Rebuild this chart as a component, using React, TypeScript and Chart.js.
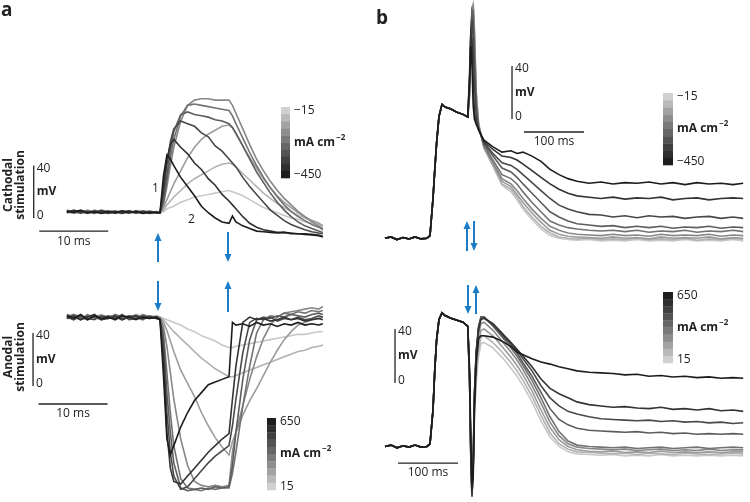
import React, { useEffect, useRef } from "react";
import { Chart, registerables } from "chart.js";
Chart.register(...registerables);

// ---------- Panel a : time (ms, stimulus onset = 0) ----------
const timeA = [-13.5, -12.5, -11.5, -10.5, -9.5, -8.5, -7.5, -6.5, -5.5, -4.5, -3.5, -2.5, -1.5, -0.5,
  0, 0.5, 1, 1.5, 2, 3, 4, 5, 6, 7, 8, 9, 10, 10.5, 11, 12, 13, 14, 15, 16, 17, 18, 19, 20, 21, 22, 23, 23.6];

// Cathodal stimulation (mV), strongest (-450) first
const cathodal1 = [5, 4.5, 6, 4, 5, 3.5, 5, 4, 5.5, 4, 5, 3.5, 4.5, 4, 4, 32, 48, 45, 40, 31, 24, 17, 9, 4, 0, -3, -4, 1.5, -3, -6, -8, -10, -10.5, -11, -11.5, -11, -12, -12, -12.5, -13, -13.5, -14.5];
const cathodal2 = [4, 6, 4.5, 5, 4, 5.5, 4, 5, 3.5, 5.5, 4, 5, 4, 4.5, 4, 25, 45, 56, 60, 54, 49, 42, 37, 30, 25, 18, 13, 10, 7, 1, -4, -7, -9, -10, -11, -11, -11.5, -12, -12, -12.5, -13, -14];
const cathodal3 = [6, 4, 5, 3.5, 5.5, 4.5, 3.5, 5, 4.5, 4, 5.5, 4.5, 3.5, 4.5, 4, 18, 40, 58, 68, 74, 72, 70, 65, 62, 55, 51, 45, 42, 39, 31, 24, 18, 12, 6, 2, -2, -5, -7, -9, -10.5, -11.5, -12];
const cathodal4 = [5, 5.5, 3.5, 5, 4, 6, 4.5, 3.5, 5, 5.5, 4, 4, 5, 4, 4, 14, 32, 52, 66, 79, 81, 79, 78, 77, 75, 74, 72, 69, 65, 55, 45, 35, 27, 19, 12, 6, 1, -3, -6, -8, -10, -11];
const cathodal5 = [4.5, 4, 5.5, 4.5, 3.5, 5, 5.5, 4, 4, 5, 3.5, 5.5, 4.5, 4.5, 4, 12, 28, 46, 60, 78, 86, 87, 86, 85, 84, 83, 82, 78, 72, 61, 50, 40, 31, 23, 16, 10, 5, 1, -2, -5, -7, -9];
const cathodal6 = [5.5, 4.5, 4, 6, 4.5, 4, 5, 5.5, 3.5, 4.5, 5, 4, 5.5, 4, 4, 10, 24, 40, 54, 74, 86, 90, 91, 91, 90, 90, 90, 86, 80, 68, 56, 45, 36, 28, 21, 15, 10, 5, 1, -3, -6, -8];
const cathodal7 = [4, 5, 5, 4, 6, 4.5, 4, 4.5, 5.5, 3.5, 5, 4.5, 4, 5, 4, 8, 14, 20, 26, 36, 46, 54, 60, 64, 67, 70, 71, 69, 64, 55, 46, 38, 30, 23, 17, 12, 8, 4, 1, -2, -4, -6];
const cathodal8 = [5, 3.5, 4.5, 5.5, 4, 5, 4.5, 5.5, 4, 5, 4.5, 5.5, 4, 4.5, 4, 6, 10, 13, 16, 21, 26, 30, 33, 36, 39, 41, 42, 41, 39, 34, 29, 24, 19, 15, 11, 8, 5, 2, 0, -2, -4, -6];
const cathodal9 = [6, 4.5, 5, 4, 5, 4, 5.5, 4.5, 5, 4, 4.5, 5, 5, 4.5, 4, 5, 7, 8, 9, 12, 14, 16, 17, 18, 19, 20, 21, 20, 19, 17, 14, 11, 8, 6, 4, 2, 0, -1, -3, -4, -5, -6];

// Anodal stimulation (mV), strongest (650) first
const anodal1 = [53, 51, 54, 50, 53, 51, 52, 50, 53, 52, 50, 52, 51, 52, 50, 8, -40, -52, -45, -31, -20, -11, -5, 1, 3, 5, 7, 48, 46, 47, 45, 48, 46, 47, 45, 47, 46, 48, 46, 47, 46, 47];
const anodal2 = [51, 53, 50, 52, 54, 50, 51, 53, 50, 52, 53, 51, 52, 51, 50, 20, -35, -62, -72, -74, -68, -62, -56, -50, -45, -40, -36, -10, 15, 48, 52, 50, 51, 49, 50, 52, 50, 51, 49, 50, 51, 50];
const anodal3 = [52, 50, 53, 51, 50, 53, 52, 51, 54, 50, 51, 53, 52, 52, 50, 28, -20, -50, -68, -78, -76, -70, -64, -58, -53, -49, -45, -30, -10, 25, 48, 51, 50, 52, 49, 51, 50, 52, 50, 51, 53, 52];
const anodal4 = [54, 52, 51, 53, 52, 50, 53, 52, 51, 53, 52, 50, 53, 51, 51, 35, -5, -35, -58, -77, -79, -78, -77, -78, -76, -77, -76, -60, -35, 5, 35, 50, 52, 51, 53, 52, 54, 53, 52, 54, 55, 54];
const anodal5 = [52, 54, 52, 50, 53, 52, 51, 54, 52, 51, 53, 52, 51, 52, 51, 40, 10, -20, -45, -70, -77, -78, -79, -77, -78, -77, -77, -66, -50, -15, 15, 40, 50, 53, 52, 55, 54, 56, 55, 57, 56, 57];
const anodal6 = [53, 52, 50, 54, 51, 53, 52, 52, 50, 53, 51, 54, 52, 51, 51, 45, 30, 10, -10, -40, -60, -72, -75, -76, -75, -76, -75, -50, -35, -15, 5, 22, 36, 46, 52, 55, 56, 57, 58, 59, 58, 60];
const anodal7 = [52, 53, 51, 52, 53, 51, 53, 51, 52, 51, 54, 52, 51, 53, 52, 48, 42, 34, 26, 12, 2, -8, -20, -30, -39, -46, -52, -42, -35, -22, -11, -2, 8, 18, 27, 35, 41, 46, 48, 50, 51, 52];
const anodal8 = [51, 52, 53, 51, 52, 54, 51, 52, 53, 52, 51, 52, 53, 52, 52, 50, 47, 44, 41, 36, 31, 26, 21, 17, 13, 10, 7, 7, 8, 10, 12, 14, 16, 18, 20, 22, 24, 26, 27, 29, 30, 31];
const anodal9 = [53, 51, 52, 53, 51, 52, 53, 52, 51, 53, 52, 51, 52, 53, 52, 51, 50, 49, 48, 46, 43, 41, 38, 36, 34, 31, 29, 29, 30, 31, 32, 33, 34, 35, 36, 37, 38, 39, 39, 40, 41, 41];

// ---------- Panel b : time (ms, upstroke = 0) ----------
const timeB = [-80, -70, -60, -50, -40, -30, -20, -10, -5, 0, 3, 6, 10, 15, 20, 30, 40, 50, 58,
  61, 63, 65, 67, 69, 72, 76, 80,
  85, 100, 115, 130, 140, 150, 165, 180, 195, 210, 225, 240, 260, 280, 300, 320, 340, 360, 380, 400, 420, 440, 460, 480, 500, 517];

const bTopUpstroke = [-90, -89, -91, -89.5, -90.5, -89, -90.5, -90, -88, -60, -38, -18, 2, 11, 9, 7.5, 5, 3.5, 1.5];
const bTop1 = [...bTopUpstroke, 30, 55, 40, 10, 0, -4, -8, -12, -16, -21, -25, -24, -26, -25, -28, -32, -38, -42, -45, -47, -48.5, -47.5, -49, -48, -48.5, -47.5, -49, -48, -49.5, -48, -49, -48.5, -49.5, -48.5];
const bTop2 = [...bTopUpstroke, 35, 65, 60, 30, 5, -3, -8, -12, -17, -23, -28, -29, -31, -34, -39, -44, -49, -53, -56, -58, -59, -60, -59, -60.5, -59.5, -60, -59, -61, -60, -59.5, -61, -60, -59.5, -60];
const bTop3 = [...bTopUpstroke, 30, 65, 75, 60, 30, 2, -8, -12, -18, -26, -33, -35, -38, -42, -48, -54, -60, -65, -68, -70, -72, -72.5, -74, -73, -74.5, -73, -74, -73.5, -75, -74, -73.5, -75, -74, -75];
const bTop4 = [...bTopUpstroke, 25, 62, 80, 75, 45, 8, -7, -12, -19, -28, -37, -40, -44, -49, -56, -63, -70, -74, -77, -79, -80, -81, -80.5, -82, -81, -82, -81, -82.5, -81.5, -82, -81, -82.5, -81.5, -82];
const bTop5 = [...bTopUpstroke, 22, 60, 82, 82, 55, 12, -6, -12, -20, -31, -42, -45, -49, -55, -63, -70, -77, -80, -82, -83, -84, -84.5, -84, -85, -84, -85.5, -84.5, -85, -84, -85.5, -84.5, -85, -84, -85];
const bTop6 = [...bTopUpstroke, 20, 58, 83, 85, 62, 16, -5, -12, -21, -33, -45, -49, -54, -60, -68, -75, -81, -84, -86, -87, -87.5, -88, -87, -88, -87.5, -88.5, -87, -88, -87.5, -88, -87, -88.5, -87.5, -88];
const bTop7 = [...bTopUpstroke, 18, 56, 84, 86, 66, 20, -4, -12, -21, -34, -47, -51, -57, -63, -71, -78, -84, -87, -88.5, -89, -89.5, -90, -89, -90, -89.5, -90.5, -89, -90, -89.5, -90, -89, -90.5, -89.5, -90];
const bTop8 = [...bTopUpstroke, 18, 55, 84, 87, 66, 20, -4, -12, -22, -35, -49, -53, -59, -66, -74, -81, -86, -89, -90, -90.5, -90, -91, -90.5, -91, -90, -91, -90.5, -91, -90, -91.5, -90.5, -91, -90, -91];
const bTop9 = [...bTopUpstroke, 17, 54, 83, 86, 68, 22, -3, -12, -22, -36, -50, -55, -61, -68, -76, -83, -88, -90, -91, -91.5, -91, -92, -91.5, -92, -91, -92, -91.5, -92, -91, -92, -91.5, -92, -91, -92];

const bBotUpstroke = [-47, -46, -48, -46.5, -47.5, -46, -47.5, -47, -45, -20, 10, 32, 47, 52, 50, 48, 46.5, 45, 42];
const bBot1 = [...bBotUpstroke, 10, -40, -75, -70, -20, 15, 33, 35, 35, 34, 31, 27, 23, 21, 18, 15.5, 14, 12, 10.5, 9, 8, 7.5, 7, 6, 6.5, 5, 5.5, 4.5, 5, 4, 4.5, 3.5, 4, 3.5];
const bBot2 = [...bBotUpstroke, 5, -50, -82, -62, -12, 22, 40, 47, 48, 44, 37, 30, 25, 20, 12, 3, -4, -8, -11, -14, -16, -17, -18, -17.5, -18.5, -19, -18, -19.5, -19, -20, -19, -20.5, -20, -21];
const bBot3 = [...bBotUpstroke, 3, -52, -84, -60, -10, 22, 41, 48, 48, 43, 36, 29, 24, 18, 9, -2, -11, -17, -21, -23, -25, -26.5, -27, -27.5, -28, -27.5, -28.5, -28, -29, -28.5, -29.5, -29, -30, -29.5];
const bBot4 = [...bBotUpstroke, 2, -55, -84, -58, -8, 24, 42, 49, 49, 43, 35, 28, 22, 15, 5, -7, -19, -27, -31, -33.5, -35, -35.5, -36, -36.5, -36, -37, -36.5, -37.5, -37, -38, -37.5, -38, -37.5, -38];
const bBot5 = [...bBotUpstroke, 0, -55, -84, -60, -10, 22, 41, 49, 49, 42, 34, 26, 20, 13, 2, -11, -25, -36, -43, -46, -47, -47.5, -48, -47.5, -48.5, -48, -47.5, -48.5, -48, -47.5, -48.5, -48, -47.5, -48];
const bBot6 = [...bBotUpstroke, 0, -54, -83, -62, -15, 15, 36, 44, 45, 39, 31, 23, 17, 10, -2, -15, -29, -39, -45, -47.5, -48.5, -49, -49.5, -49, -50, -49.5, -49, -50, -49.5, -50, -49, -50, -49.5, -49.5];
const bBot7 = [...bBotUpstroke, 0, -52, -82, -64, -20, 10, 30, 39, 40, 35, 27, 19, 13, 6, -6, -20, -33, -42, -47, -49.5, -50.5, -51, -50.5, -51.5, -51, -51.5, -50.5, -51.5, -51, -51.5, -51, -51.5, -51, -51];
const bBot8 = [...bBotUpstroke, 0, -50, -80, -65, -24, 5, 25, 34, 35, 30, 23, 15, 9, 2, -10, -24, -37, -45, -49, -51, -51.5, -52, -52.5, -52, -53, -52, -52.5, -53, -52, -52.5, -53, -52.5, -52, -52.5];
const bBot9 = [...bBotUpstroke, 0, -48, -78, -66, -28, 0, 20, 29, 30, 26, 19, 11, 5, -2, -14, -28, -40, -47, -51, -52.5, -53, -53.5, -53, -54, -53.5, -54, -53, -54, -53.5, -54, -53.5, -54, -53.5, -54];

// legend labels
const cathodalRange = ["\u221215", "\u2212450"];
const anodalRange = ["650", "15"];

const traceShades = ["#1c1c1c", "#333333", "#484848", "#5d5d5d", "#727272", "#878787", "#9c9c9c", "#b2b2b2", "#c8c8c8"];
const barShades = ["#1e1e1e", "#2f2f2f", "#404040", "#535353", "#666666", "#7a7a7a", "#8e8e8e", "#a3a3a3", "#b9b9b9", "#d0d0d0"];

const W = 750, H = 502;
const FONT = '"Open Sans", "Noto Sans", sans-serif';
const BLUE = "#1c7cc6";

function xRange(px0: number, v0: number, k: number) {
  return { min: v0 - px0 / k, max: v0 + (W - px0) / k };
}
function yRange(px0: number, v0: number, k: number) {
  return { min: v0 - (H - px0) / k, max: v0 + px0 / k };
}

function series(times: number[], vals: number[], xID: string, yID: string, color: string) {
  return {
    data: times.map((t, i) => ({ x: t, y: vals[i] })),
    xAxisID: xID,
    yAxisID: yID,
    borderColor: color,
    borderWidth: 1.6,
    pointRadius: 0,
    tension: 0,
    fill: false,
  };
}

const annotations = {
  id: "annotations",
  afterDatasetsDraw(chart: any) {
    const ctx = chart.ctx as CanvasRenderingContext2D;
    const s = chart.scales;
    ctx.save();
    ctx.fillStyle = "#222";
    ctx.strokeStyle = "#222";

    const text = (t: string, x: number, y: number, size: number, bold = false, align: CanvasTextAlign = "left") => {
      ctx.font = `${bold ? "bold " : ""}${size}px ${FONT}`;
      ctx.textAlign = align;
      ctx.textBaseline = "middle";
      ctx.fillText(t, x, y);
    };
    const units = (x: number, y: number) => {
      ctx.font = `bold 12px ${FONT}`;
      ctx.textAlign = "left";
      ctx.textBaseline = "middle";
      ctx.fillText("mA cm", x, y);
      const w = ctx.measureText("mA cm").width;
      ctx.font = `bold 8px ${FONT}`;
      ctx.fillText("\u22122", x + w + 1, y - 5);
    };
    const scaleBar = (xs: any, ys: any, tV: number, tA: number, tB: number, vT: number, msLabel: string) => {
      const x = xs.getPixelForValue(tV);
      const y0 = ys.getPixelForValue(0);
      const y40 = ys.getPixelForValue(40);
      ctx.lineWidth = 1.3;
      ctx.beginPath();
      ctx.moveTo(x, y0);
      ctx.lineTo(x, y40);
      ctx.stroke();
      text("40", x + 3, y40 + 3, 12);
      text("mV", x + 3, (y0 + y40) / 2, 12, true);
      text("0", x + 3, y0 - 2, 12);
      const xa = xs.getPixelForValue(tA);
      const xb = xs.getPixelForValue(tB);
      const yt = ys.getPixelForValue(vT);
      ctx.beginPath();
      ctx.moveTo(xa, yt);
      ctx.lineTo(xb, yt);
      ctx.stroke();
      text(msLabel, (xa + xb) / 2, yt + 10, 12, false, "center");
    };
    const colorbar = (x: number, y: number, w: number, h: number, darkTop: boolean, labels: string[]) => {
      const n = barShades.length;
      const seg = h / n;
      for (let i = 0; i < n; i++) {
        ctx.fillStyle = darkTop ? barShades[i] : barShades[n - 1 - i];
        ctx.fillRect(x, y + i * seg, w, seg + 0.3);
      }
      ctx.fillStyle = "#222";
      text(labels[0], x + w + 4, y + 4, 12);
      units(x + w + 4, y + h / 2);
      text(labels[1], x + w + 4, y + h - 3, 12);
    };
    const arrow = (x: number, yFrom: number, yTo: number) => {
      const dir = yTo > yFrom ? 1 : -1;
      ctx.strokeStyle = BLUE;
      ctx.fillStyle = BLUE;
      ctx.lineWidth = 2;
      ctx.beginPath();
      ctx.moveTo(x, yFrom);
      ctx.lineTo(x, yTo - dir * 6);
      ctx.stroke();
      ctx.beginPath();
      ctx.moveTo(x, yTo);
      ctx.lineTo(x - 3.5, yTo - dir * 8);
      ctx.lineTo(x + 3.5, yTo - dir * 8);
      ctx.closePath();
      ctx.fill();
      ctx.strokeStyle = "#222";
      ctx.fillStyle = "#222";
    };
    const vlabel = (t: string, x: number, y: number) => {
      ctx.save();
      ctx.translate(x, y);
      ctx.rotate(-Math.PI / 2);
      text(t, 0, 0, 12, true, "center");
      ctx.restore();
    };

    // panel letters
    text("a", 1, 11, 19, true);
    text("b", 376, 19, 19, true);

    // side labels
    vlabel("Cathodal", 9, 185);
    vlabel("stimulation", 21, 185);
    vlabel("Anodal", 9, 357);
    vlabel("stimulation", 21, 357);

    // scale bars
    scaleBar(s.xa, s.ya1, -18.3, -17.5, -7.5, -10, "10 ms");
    scaleBar(s.xa, s.ya2, -18.4, -17.6, -7.6, -13.6, "10 ms");
    scaleBar(s.xb, s.yb1, 131.7, 151.7, 251.7, -9.8, "100 ms");
    scaleBar(s.xb, s.yb2, -63.3, -58.3, 41.7, -59.3, "100 ms");

    // trace markers
    text("1", 152, 189, 12);
    text("2", 188, 220, 12);

    // colour bars
    colorbar(281, 107, 9, 71, false, cathodalRange);
    colorbar(267, 418, 9, 72, true, anodalRange);
    colorbar(663, 93, 10, 72, false, cathodalRange);
    colorbar(663, 292, 10, 71, true, anodalRange);

    // stimulus arrows
    arrow(158, 262, 233);
    arrow(228, 232, 262);
    arrow(158, 281, 311);
    arrow(228, 312, 281);
    arrow(467, 251, 221);
    arrow(474, 221, 251);
    arrow(468, 285, 314);
    arrow(476, 314, 285);

    ctx.restore();
  },
};

export default function App() {
  const ref = useRef<HTMLCanvasElement | null>(null);
  useEffect(() => {
    if (!ref.current) return;
    const cath = [cathodal1, cathodal2, cathodal3, cathodal4, cathodal5, cathodal6, cathodal7, cathodal8, cathodal9];
    const anod = [anodal1, anodal2, anodal3, anodal4, anodal5, anodal6, anodal7, anodal8, anodal9];
    const bt = [bTop1, bTop2, bTop3, bTop4, bTop5, bTop6, bTop7, bTop8, bTop9];
    const bb = [bBot1, bBot2, bBot3, bBot4, bBot5, bBot6, bBot7, bBot8, bBot9];
    // Chart.js paints dataset 0 last, so the darkest traces go first to lie on top
    const datasets: any[] = [];
    for (let i = 0; i < 9; i++) datasets.push(series(timeA, cath[i], "xa", "ya1", traceShades[i]));
    for (let i = 0; i < 9; i++) datasets.push(series(timeA, anod[i], "xa", "ya2", traceShades[i]));
    for (let i = 0; i < 9; i++) datasets.push(series(timeB, bt[i], "xb", "yb1", traceShades[i]));
    for (let i = 0; i < 9; i++) datasets.push(series(timeB, bb[i], "xb", "yb2", traceShades[i]));

    const chart = new Chart(ref.current, {
      type: "line",
      data: { datasets },
      options: {
        animation: false,
        responsive: false,
        devicePixelRatio: 1,
        events: [],
        layout: { padding: 0 },
        plugins: { legend: { display: false }, tooltip: { enabled: false } },
        scales: {
          xa: { type: "linear", axis: "x", display: false, ...xRange(160, 0, 6.9) },
          xb: { type: "linear", axis: "x", display: false, ...xRange(433, 0, 0.6) },
          ya1: { type: "linear", axis: "y", display: false, ...yRange(218, 0, 1.31) },
          ya2: { type: "linear", axis: "y", display: false, ...yRange(386, 0, 1.325) },
          yb1: { type: "linear", axis: "y", display: false, ...yRange(119, 0, 1.325) },
          yb2: { type: "linear", axis: "y", display: false, ...yRange(383, 0, 1.35) },
        },
      } as any,
      plugins: [annotations],
    });
    return () => chart.destroy();
  }, []);
  return (
    <div style={{ position: "absolute", left: 0, top: 0, width: W, height: H, background: "#fff" }}>
      <canvas ref={ref} width={W} height={H} style={{ width: W, height: H, display: "block" }} />
    </div>
  );
}
